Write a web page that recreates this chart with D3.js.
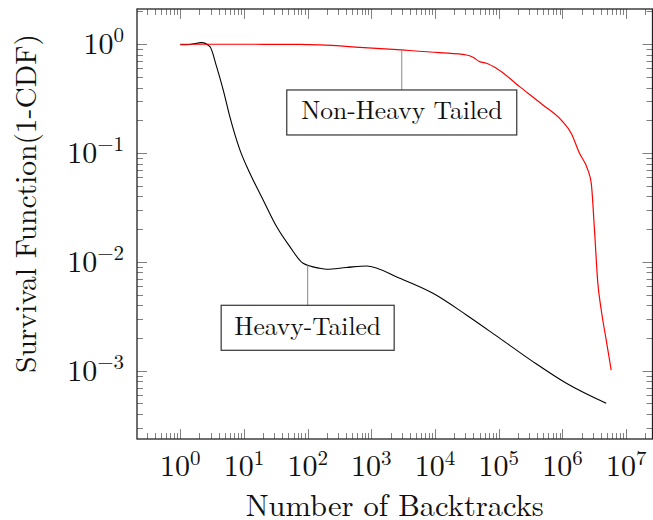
<!DOCTYPE html>
<html>
<head>
<meta charset="utf-8">
<script src="https://cdn.jsdelivr.net/npm/d3@7"></script>
<style>
  html, body { margin: 0; padding: 0; background: #fff; }
  svg { display: block; }
</style>
</head>
<body>
<div id="chart"></div>
<script>
// survival function, heavy vs non-heavy tailed backtrack counts
const heavyX = [1, 1.42, 2.17, 2.92, 3.72, 4.72, 6.0, 8.63, 12.4, 20.0, 32.5, 52.5, 84.9, 155, 198, 407, 838, 2790, 9270, 31000, 103000, 344000, 1.15e6, 4.86e6];
const heavyY = [0.99, 0.996, 1.034, 0.95, 0.622, 0.380, 0.216, 0.107, 0.0652, 0.0371, 0.0211, 0.0138, 0.0097, 0.00873, 0.00855, 0.00887, 0.00917, 0.00706, 0.00514, 0.00325, 0.00199, 0.00121, 0.000766, 0.000501];

const nonHeavyX = [1, 8.6, 75, 155, 658, 2960, 11800, 31000, 39300, 50100, 63800, 91600, 212000, 492000, 957000, 1.37e6, 1.85e6, 2.5e6, 2.83e6, 3.18e6, 3.59e6, 4.06e6, 4.86e6, 5.82e6];
const nonHeavyY = [1, 1, 0.996, 0.985, 0.938, 0.886, 0.837, 0.797, 0.760, 0.692, 0.669, 0.602, 0.408, 0.277, 0.201, 0.152, 0.0996, 0.070, 0.0528, 0.0196, 0.00635, 0.00361, 0.00191, 0.00101];

const xTickExps = [0, 1, 2, 3, 4, 5, 6, 7];
const yTickExps = [0, -1, -2, -3];

const pins = [
  { label: 'Non-Heavy Tailed', x: 3000, y: 0.886 },
  { label: 'Heavy-Tailed', x: 100, y: 0.0093 }
];

const FONT = "'Latin Modern Roman', 'Liberation Serif', serif";
const width = 653, height = 520;
const box = { left: 137, right: 652.5, top: 9, bottom: 439 };

const svg = d3.select('#chart').append('svg')
  .attr('width', width).attr('height', height)
  .attr('font-family', FONT);

const x = d3.scaleLog()
  .domain([Math.pow(10, -0.679), Math.pow(10, 7.413)])
  .range([box.left, box.right]);
const y = d3.scaleLog()
  .domain([Math.pow(10, -3.628), Math.pow(10, 0.324)])
  .range([box.bottom, box.top]);

// ticks: major at decades, minor 2..9, inward on all four sides
function logTicks(scale) {
  const [a, b] = scale.domain();
  const out = [];
  for (let e = Math.floor(Math.log10(a)); e <= Math.ceil(Math.log10(b)); e++) {
    for (let k = 1; k <= 9; k++) {
      const v = k * Math.pow(10, e);
      if (v >= a && v <= b) out.push({ v, major: k === 1 });
    }
  }
  return out;
}

const tickColor = '#808080';
const gTicks = svg.append('g').attr('stroke', tickColor).attr('stroke-width', 1);
logTicks(x).forEach(t => {
  const len = t.major ? 10 : 6;
  const px = Math.round(x(t.v)) + 0.5;
  gTicks.append('line').attr('x1', px).attr('x2', px).attr('y1', box.bottom).attr('y2', box.bottom - len);
  gTicks.append('line').attr('x1', px).attr('x2', px).attr('y1', box.top).attr('y2', box.top + len);
});
logTicks(y).forEach(t => {
  const len = t.major ? 10 : 6;
  const py = Math.round(y(t.v)) + 0.5;
  gTicks.append('line').attr('y1', py).attr('y2', py).attr('x1', box.left).attr('x2', box.left + len);
  gTicks.append('line').attr('y1', py).attr('y2', py).attr('x1', box.right).attr('x2', box.right - len);
});

// curves
const line = d3.line()
  .x(d => x(d[0]))
  .y(d => y(d[1]))
  .curve(d3.curveMonotoneX);

svg.append('path')
  .datum(heavyX.map((v, i) => [v, heavyY[i]]))
  .attr('d', line)
  .attr('fill', 'none').attr('stroke', '#000').attr('stroke-width', 1.1);

svg.append('path')
  .datum(nonHeavyX.map((v, i) => [v, nonHeavyY[i]]))
  .attr('d', line)
  .attr('fill', 'none').attr('stroke', '#ff0000').attr('stroke-width', 1.2);

// axis box
svg.append('rect')
  .attr('x', box.left).attr('y', box.top)
  .attr('width', box.right - box.left).attr('height', box.bottom - box.top)
  .attr('fill', 'none').attr('stroke', '#222').attr('stroke-width', 1.3);

// tick labels
const xl = svg.append('g').attr('font-size', 30).attr('fill', '#111');
xTickExps.forEach(e => {
  const t = xl.append('text').attr('x', x(Math.pow(10, e))).attr('y', 476).attr('text-anchor', 'middle');
  t.append('tspan').text('10');
  t.append('tspan').attr('font-size', 21).attr('dy', -11).text(String(e));
});
const yl = svg.append('g').attr('font-size', 30).attr('fill', '#111');
yTickExps.forEach(e => {
  const t = yl.append('text').attr('x', 124).attr('y', y(Math.pow(10, e)) + 10).attr('text-anchor', 'end');
  t.append('tspan').text('10');
  t.append('tspan').attr('font-size', 21).attr('dy', -12).text(e < 0 ? '\u2212' + (-e) : String(e));
});

// axis titles
svg.append('text')
  .attr('x', (box.left + box.right) / 2).attr('y', 516)
  .attr('text-anchor', 'middle').attr('font-size', 30.5).attr('fill', '#111')
  .text('Number of Backtracks');

svg.append('text')
  .attr('transform', 'translate(36,203.5) rotate(-90)')
  .attr('text-anchor', 'middle').attr('font-size', 29.5).attr('fill', '#111')
  .text('Survival Function(1-CDF)');

// pins with boxed labels
const pinGap = 40;
const boxW = { 'Non-Heavy Tailed': 230, 'Heavy-Tailed': 173 };
pins.forEach(p => {
  const px = x(p.x), py = y(p.y);
  const top = py + pinGap;
  svg.append('line')
    .attr('x1', px).attr('x2', px).attr('y1', py).attr('y2', top)
    .attr('stroke', '#888').attr('stroke-width', 1);
  svg.append('rect')
    .attr('x', px - boxW[p.label] / 2).attr('y', top)
    .attr('width', boxW[p.label]).attr('height', 45)
    .attr('fill', '#fff').attr('stroke', '#333').attr('stroke-width', 1.2);
  svg.append('text')
    .attr('x', px).attr('y', top + 29.5)
    .attr('text-anchor', 'middle').attr('font-size', 25.5).attr('fill', '#111')
    .text(p.label);
});
</script>
</body>
</html>
